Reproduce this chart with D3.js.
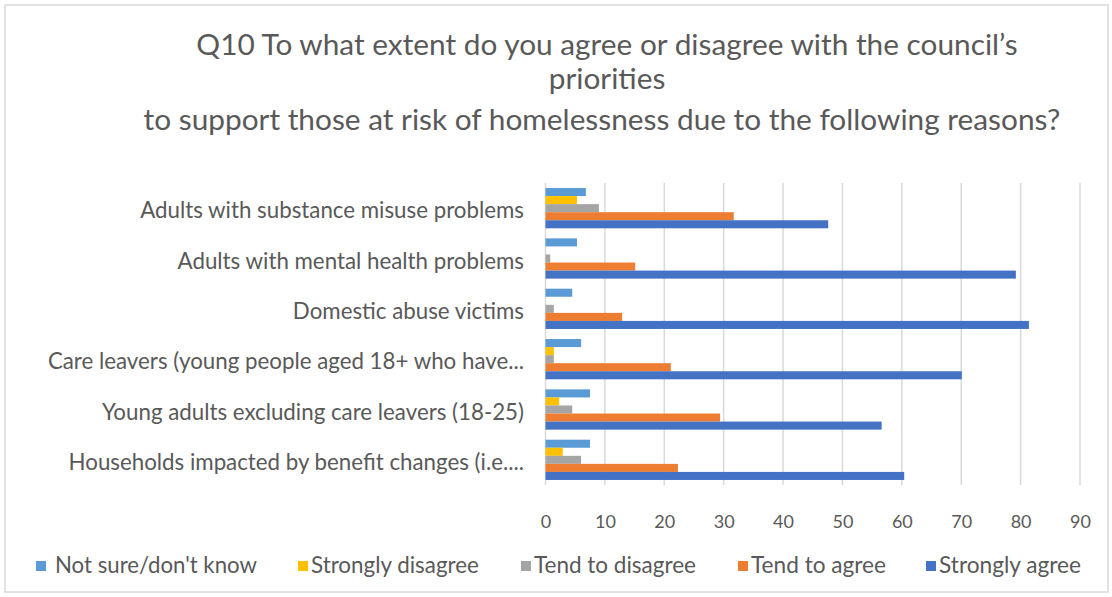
<!DOCTYPE html>
<html><head><meta charset="utf-8">
<script src="https://cdn.jsdelivr.net/npm/d3@7"></script>
<style>body{margin:0;background:#fff}svg{display:block}text{font-family:Lato,"Open Sans",sans-serif;fill:#595959}</style>
</head><body><svg id="c" width="1112" height="597"></svg>
<script>
const categories = [
  "Adults with substance misuse problems",
  "Adults with mental health problems",
  "Domestic abuse victims",
  "Care leavers (young people aged 18+ who have...",
  "Young adults excluding care leavers (18-25)",
  "Households impacted by benefit changes (i.e...."
];
const seriesNames = ["Not sure/don't know","Strongly disagree","Tend to disagree","Tend to agree","Strongly agree"];
const notSure = [6.8, 5.3, 4.5, 6.0, 7.5, 7.5];
const stronglyDisagree = [5.3, 0, 0, 1.4, 2.3, 2.9];
const tendDisagree = [9.0, 0.8, 1.4, 1.4, 4.5, 6.0];
const tendAgree = [31.7, 15.1, 12.9, 21.1, 29.4, 22.3];
const stronglyAgree = [47.6, 79.2, 81.4, 70.1, 56.6, 60.4];
const xTicks = [0,10,20,30,40,50,60,70,80,90];
const colors = ["#5B9BD5","#FFC000","#A5A5A5","#ED7D31","#4472C4"];
const titleLines = ["Q10 To what extent do you agree or disagree with the council\u2019s","priorities"," to support those at risk of homelessness due to the following reasons?"];

const seriesVals = [notSure, stronglyDisagree, tendDisagree, tendAgree, stronglyAgree];
const svg = d3.select("#c");

function fit(sel, w){
  sel.each(function(){
    const fs = parseFloat(this.getAttribute("font-size"));
    const cw = this.getComputedTextLength();
    if (cw>0) this.setAttribute("font-size", (fs*w/cw).toFixed(2));
  });
}

svg.append("rect").attr("x",5).attr("y",5).attr("width",1103).attr("height",587)
  .attr("fill","#fff").attr("stroke","#d9d9d9").attr("stroke-width",1.5);

// title
const tY = [55,89,130];
const tt = titleLines.map((t,i)=>svg.append("text").attr("x",607 + (i==2?-5:0)).attr("y",tY[i])
  .attr("text-anchor","middle").attr("font-size",24).text(t));
tt[2].call(fit, 917);
const tfs = tt[2].attr("font-size");
tt.forEach(t=>t.attr("font-size",tfs));

const x = d3.scaleLinear().domain([0,90]).range([545.5,1080]);
const y0 = d3.scaleBand().domain(categories).range([183,485]).paddingInner(0.2).paddingOuter(0.1);
const y1 = d3.scaleBand().domain(seriesNames).range([0,y0.bandwidth()]);

// gridlines
svg.append("g").selectAll("line").data(xTicks).join("line")
  .attr("x1",d=>x(d)).attr("x2",d=>x(d)).attr("y1",183).attr("y2",485)
  .attr("stroke","#d9d9d9").attr("stroke-width",1.5);

// bars
const g = svg.append("g");
categories.forEach((c,ci)=>{
  seriesNames.forEach((s,si)=>{
    const v = seriesVals[si][ci];
    if (v<=0) return;
    g.append("rect").attr("x",x(0)).attr("y",y0(c)+y1(s))
      .attr("width",x(v)-x(0)).attr("height",y1.bandwidth()).attr("fill",colors[si]);
  });
});

// x axis labels
const xa = svg.append("g").attr("transform","translate(0,485)")
  .call(d3.axisBottom(x).tickValues(xTicks).tickSize(0).tickPadding(30));
xa.select(".domain").remove();
xa.selectAll("text").attr("font-size",18).attr("font-family","Lato,sans-serif").attr("fill","#595959");

// category labels
const cg = svg.append("g");
const ct = cg.selectAll("text").data(categories).join("text")
  .attr("x",524).attr("y",d=>y0(d)+y0.bandwidth()/2+10).attr("text-anchor","end")
  .attr("font-size",18).text(d=>d);
ct.filter((d,i)=>i===0).call(fit,384);
ct.attr("font-size", ct.filter((d,i)=>i===0).attr("font-size"));

// legend
const legX = [[36,55,202],[298,311,168],[521,534,162],[738,751,135],[926,939,142]];
const lg = svg.append("g");
seriesNames.forEach((s,i)=>{
  lg.append("rect").attr("x",legX[i][0]).attr("y",561).attr("width",10).attr("height",10).attr("fill",colors[i]);
  lg.append("text").attr("x",legX[i][1]).attr("y",573).attr("font-size",19).text(s).call(fit,legX[i][2]);
});
</script></body></html>
